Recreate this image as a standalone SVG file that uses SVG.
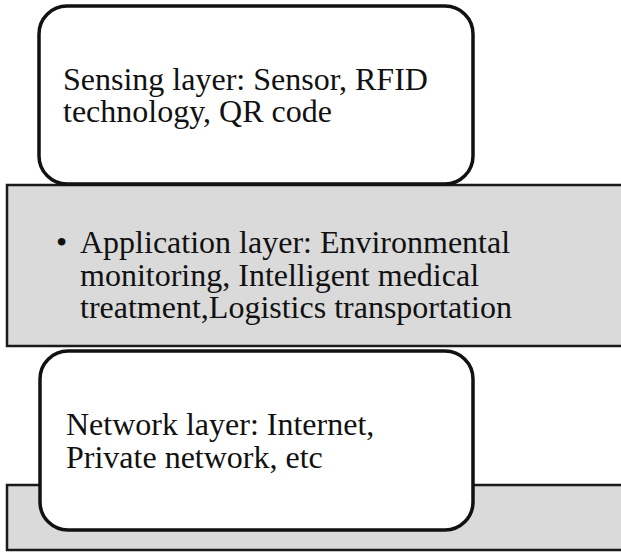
<svg xmlns="http://www.w3.org/2000/svg" width="621" height="552" viewBox="0 0 621 552">
<style>
.band{fill:#dadada;stroke:#1a1a1a;stroke-width:2.5}
.box{fill:#ffffff;stroke:#111111;stroke-width:3.5}
.t{font-family:"Liberation Serif","Times New Roman",serif;font-size:32px;fill:#111111}
</style>
<rect width="621" height="552" fill="#ffffff"/>
<g id="app-layer">
<rect class="band" x="7" y="185" width="620" height="161"/>
<text class="t" x="56" y="253">•</text>
<text class="t" x="80" y="253">Application layer: Environmental</text>
<text class="t" x="80" y="286">monitoring, Intelligent medical</text>
<text class="t" x="80" y="318">treatment,Logistics transportation</text>
</g>
<g id="base-band">
<rect class="band" x="7" y="485" width="620" height="65"/>
</g>
<g id="sensing-layer">
<rect class="box" x="39" y="6" width="434" height="178" rx="28" ry="28"/>
<text class="t" x="63" y="89.5">Sensing layer: Sensor, RFID</text>
<text class="t" x="63" y="122">technology, QR code</text>
</g>
<g id="network-layer">
<rect class="box" x="40" y="351" width="433" height="179" rx="28" ry="28"/>
<text class="t" x="66" y="434.5">Network layer: Internet,</text>
<text class="t" x="66" y="467.5">Private network, etc</text>
</g>
<g id="connectors"></g>
</svg>
